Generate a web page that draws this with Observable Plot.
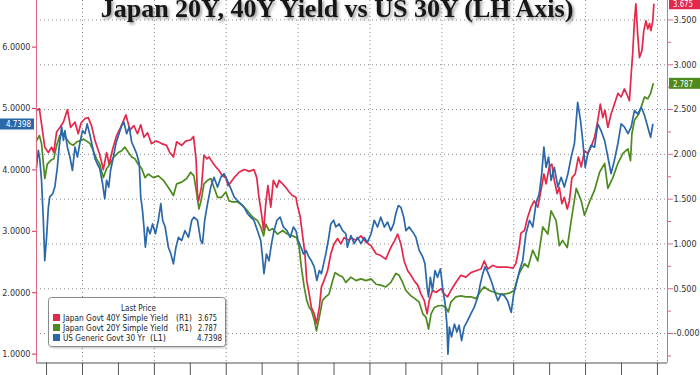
<!DOCTYPE html>
<html><head><meta charset="utf-8">
<script src="https://cdn.jsdelivr.net/npm/d3@7"></script>
<script src="https://cdn.jsdelivr.net/npm/@observablehq/plot@0.6"></script>
<style>
html,body{margin:0;padding:0;background:#fff;overflow:hidden}
#chart{width:700px;height:375px}
</style></head><body><div id="chart"></div>
<script>
// ---- Data (decimal years, yields in %) ----
const jgb40Years = [2008.72,2008.80,2008.86,2008.95,2009.05,2009.14,2009.20,2009.28,2009.37,2009.47,
2009.58,2009.67,2009.79,2009.88,2009.96,2010.07,2010.16,2010.25,2010.35,2010.47,
2010.58,2010.67,2010.74,2010.84,2010.95,2011.06,2011.21,2011.32,2011.43,2011.53,
2011.62,2011.71,2011.81,2011.92,2012.06,2012.20,2012.34,2012.43,2012.53,2012.62,
2012.76,2012.88,2013.01,2013.09,2013.16,2013.20,2013.23,2013.31,2013.38,2013.46,
2013.52,2013.62,2013.71,2013.80,2013.89,2013.99,2014.05,2014.13,2014.22,2014.36,
2014.50,2014.64,2014.77,2014.85,2014.91,2014.98,2015.04,2015.10,2015.16,2015.24,
2015.31,2015.41,2015.47,2015.57,2015.66,2015.75,2015.84,2015.94,2015.98,2016.06,
2016.12,2016.19,2016.24,2016.31,2016.37,2016.45,2016.51,2016.59,2016.65,2016.72,
2016.82,2016.91,2017.00,2017.10,2017.19,2017.28,2017.42,2017.47,2017.61,2017.75,
2017.89,2018.03,2018.17,2018.30,2018.44,2018.58,2018.69,2018.77,2018.86,2018.95,
2019.05,2019.14,2019.23,2019.33,2019.42,2019.51,2019.59,2019.65,2019.74,2019.84,
2019.98,2020.07,2020.16,2020.25,2020.39,2020.53,2020.67,2020.81,2020.95,2021.09,
2021.18,2021.28,2021.42,2021.55,2021.65,2021.84,2021.98,2022.06,2022.15,2022.20,
2022.30,2022.39,2022.48,2022.57,2022.67,2022.76,2022.84,2022.90,2022.99,2023.06,
2023.13,2023.21,2023.27,2023.34,2023.41,2023.49,2023.55,2023.62,2023.71,2023.80,
2023.88,2023.97,2024.06,2024.15,2024.25,2024.34,2024.41,2024.48,2024.54,2024.62,
2024.71,2024.80,2024.90,2024.99,2025.08,2025.16,2025.22,2025.27,2025.31,2025.36,
2025.40,2025.45,2025.50,2025.57,2025.62,2025.68,2025.73,2025.78,2025.82,2025.87,
2025.90];
const jgb40Values = [2.49,2.51,2.34,2.08,2.02,2.08,2.02,2.25,2.30,2.36,
2.50,2.30,2.36,2.23,2.35,2.40,2.41,2.32,2.15,2.01,
1.83,2.02,1.89,2.06,2.21,2.30,2.44,2.27,2.32,2.23,
2.33,2.19,2.24,2.12,2.15,2.12,2.10,2.02,1.97,2.14,
2.10,2.15,2.16,2.20,1.95,1.56,1.48,1.63,1.99,1.95,
1.97,1.91,1.86,1.82,1.76,1.74,1.65,1.69,1.74,1.80,
1.83,1.81,1.83,1.74,1.52,1.34,1.15,1.45,1.65,1.41,
1.71,1.63,1.71,1.67,1.63,1.58,1.54,1.52,1.43,1.30,
1.11,0.89,0.59,0.44,0.29,0.22,0.11,0.29,0.52,0.59,
0.70,0.89,1.00,1.06,1.00,1.07,1.04,1.07,1.04,1.09,
1.02,0.98,0.89,0.87,0.83,0.96,1.04,1.11,1.00,0.81,
0.70,0.65,0.59,0.54,0.44,0.37,0.22,0.37,0.48,0.46,
0.50,0.44,0.41,0.48,0.57,0.65,0.63,0.68,0.70,0.72,
0.81,0.72,0.76,0.74,0.74,0.74,0.73,0.78,0.96,1.12,
1.15,1.30,1.41,1.48,1.41,1.60,1.78,1.67,1.86,1.89,
1.71,1.56,1.63,1.45,1.52,1.39,1.48,1.74,1.78,1.97,
1.86,2.04,2.01,2.08,2.19,2.38,2.56,2.41,2.49,2.30,
2.45,2.56,2.68,2.64,2.73,2.66,2.60,2.90,3.12,3.49,
3.68,3.34,3.08,3.16,3.38,3.49,3.40,3.46,3.38,3.49,
3.675];

const jgb20Years = [2008.72,2008.80,2008.86,2008.95,2009.02,2009.11,2009.20,2009.28,2009.37,2009.47,
2009.56,2009.65,2009.74,2009.84,2009.93,2010.02,2010.11,2010.21,2010.30,2010.39,
2010.48,2010.58,2010.67,2010.76,2010.87,2011.00,2011.09,2011.18,2011.28,2011.37,
2011.46,2011.55,2011.65,2011.74,2011.83,2011.97,2012.11,2012.25,2012.39,2012.53,
2012.62,2012.76,2012.90,2013.01,2013.10,2013.18,2013.24,2013.31,2013.38,2013.48,
2013.57,2013.66,2013.76,2013.87,2013.99,2014.08,2014.17,2014.31,2014.45,2014.59,
2014.73,2014.87,2014.96,2015.04,2015.10,2015.19,2015.29,2015.43,2015.57,2015.70,
2015.84,2015.96,2016.03,2016.09,2016.17,2016.24,2016.31,2016.37,2016.45,2016.51,
2016.59,2016.68,2016.77,2016.86,2016.96,2017.03,2017.14,2017.24,2017.33,2017.47,
2017.61,2017.75,2017.89,2018.03,2018.17,2018.30,2018.44,2018.58,2018.72,2018.81,
2018.91,2019.00,2019.14,2019.25,2019.37,2019.47,2019.56,2019.63,2019.70,2019.79,
2019.90,2020.02,2020.11,2020.18,2020.25,2020.39,2020.53,2020.67,2020.81,2020.95,
2021.09,2021.18,2021.32,2021.46,2021.60,2021.74,2021.87,2022.01,2022.15,2022.30,
2022.40,2022.53,2022.67,2022.81,2022.95,2023.04,2023.18,2023.27,2023.36,2023.49,
2023.60,2023.74,2023.88,2023.97,2024.11,2024.25,2024.39,2024.53,2024.62,2024.76,
2024.90,2025.04,2025.18,2025.25,2025.29,2025.36,2025.48,2025.55,2025.64,2025.73,
2025.81,2025.88];
const jgb20Values = [2.15,2.21,2.12,1.73,1.89,1.93,1.95,2.10,2.21,2.23,
2.17,2.12,2.10,2.14,2.15,2.17,2.15,2.12,2.04,1.95,
1.89,1.74,1.84,1.89,1.97,2.02,2.04,2.08,2.02,1.97,
1.95,1.89,1.84,1.74,1.78,1.74,1.76,1.71,1.63,1.54,
1.67,1.69,1.73,1.80,1.76,1.56,1.39,1.50,1.67,1.71,
1.73,1.63,1.52,1.52,1.58,1.48,1.47,1.47,1.43,1.37,
1.30,1.26,1.19,1.09,1.22,1.15,1.17,1.11,1.15,1.11,
1.09,1.07,0.96,0.74,0.52,0.37,0.29,0.26,0.15,0.03,
0.18,0.37,0.41,0.44,0.59,0.68,0.65,0.63,0.57,0.63,
0.59,0.61,0.59,0.61,0.55,0.54,0.52,0.57,0.67,0.65,
0.57,0.48,0.42,0.39,0.35,0.22,0.18,0.05,0.22,0.29,
0.31,0.31,0.29,0.24,0.35,0.41,0.42,0.41,0.41,0.39,
0.48,0.52,0.48,0.46,0.44,0.44,0.45,0.48,0.67,0.78,
0.74,0.93,0.81,1.19,1.11,1.37,1.26,0.98,1.04,0.96,
1.26,1.62,1.48,1.32,1.47,1.60,1.80,1.90,1.62,1.74,
1.90,2.01,2.06,1.93,2.23,2.38,2.45,2.53,2.64,2.62,
2.68,2.787];

const ust30Years = [2008.72,2008.77,2008.81,2008.86,2008.91,2008.95,2009.00,2009.05,2009.09,2009.17,
2009.23,2009.30,2009.35,2009.42,2009.47,2009.51,2009.58,2009.65,2009.72,2009.79,
2009.86,2009.93,2010.00,2010.07,2010.13,2010.21,2010.28,2010.35,2010.41,2010.48,
2010.56,2010.62,2010.67,2010.73,2010.78,2010.86,2010.93,2011.00,2011.09,2011.15,
2011.23,2011.30,2011.37,2011.43,2011.51,2011.58,2011.62,2011.67,2011.71,2011.75,
2011.81,2011.88,2011.95,2012.03,2012.11,2012.18,2012.23,2012.30,2012.39,2012.46,
2012.53,2012.60,2012.67,2012.76,2012.85,2012.95,2013.04,2013.10,2013.20,2013.29,
2013.34,2013.40,2013.48,2013.57,2013.66,2013.76,2013.85,2013.94,2014.03,2014.13,
2014.22,2014.31,2014.40,2014.50,2014.59,2014.68,2014.77,2014.87,2014.96,2015.00,
2015.05,2015.12,2015.19,2015.26,2015.33,2015.41,2015.50,2015.59,2015.69,2015.78,
2015.87,2015.94,2016.00,2016.08,2016.15,2016.22,2016.30,2016.37,2016.45,2016.52,
2016.59,2016.65,2016.71,2016.77,2016.84,2016.91,2016.99,2017.05,2017.14,2017.24,
2017.33,2017.37,2017.47,2017.56,2017.65,2017.75,2017.84,2017.93,2018.03,2018.12,
2018.21,2018.30,2018.40,2018.49,2018.58,2018.66,2018.72,2018.79,2018.86,2018.94,
2019.00,2019.09,2019.19,2019.28,2019.37,2019.47,2019.53,2019.59,2019.63,2019.68,
2019.74,2019.81,2019.88,2019.96,2020.02,2020.09,2020.14,2020.17,2020.21,2020.27,
2020.35,2020.42,2020.48,2020.55,2020.62,2020.72,2020.81,2020.90,2021.00,2021.07,
2021.14,2021.20,2021.28,2021.37,2021.46,2021.56,2021.65,2021.74,2021.83,2021.93,
2022.00,2022.07,2022.16,2022.25,2022.34,2022.44,2022.53,2022.62,2022.71,2022.78,
2022.84,2022.90,2022.97,2023.04,2023.13,2023.23,2023.32,2023.41,2023.51,2023.60,
2023.69,2023.78,2023.86,2023.92,2023.99,2024.06,2024.15,2024.25,2024.34,2024.43,
2024.53,2024.62,2024.71,2024.80,2024.90,2024.99,2025.08,2025.18,2025.27,2025.36,
2025.45,2025.55,2025.64,2025.73,2025.81,2025.87];
const ust30Values = [4.04,4.32,4.18,3.83,3.18,2.52,2.90,3.39,3.56,3.61,
3.72,4.04,4.37,4.70,4.48,4.64,4.37,4.21,3.99,4.37,
4.21,4.45,4.64,4.59,4.75,4.56,4.37,4.18,4.10,4.02,
3.77,3.53,3.83,3.72,3.99,4.21,4.43,4.56,4.72,4.78,
4.59,4.70,4.45,4.37,4.26,4.10,3.56,3.34,3.07,2.74,
3.07,2.96,3.12,2.96,3.18,3.45,3.18,3.07,2.74,2.63,
2.47,2.74,2.90,2.85,3.01,2.90,3.18,3.23,3.18,2.85,
2.80,3.18,3.45,3.72,3.88,3.72,3.88,3.94,3.83,3.69,
3.56,3.50,3.45,3.39,3.29,3.23,3.18,3.01,2.85,2.63,
2.31,2.63,2.52,2.80,3.01,3.18,3.23,3.07,3.01,2.90,
3.07,3.01,2.85,2.74,2.63,2.69,2.58,2.52,2.42,2.20,
2.36,2.31,2.47,2.63,2.85,3.12,3.18,3.07,3.12,3.01,
2.96,2.74,2.93,2.80,2.90,2.80,2.90,2.82,2.96,3.18,
3.07,3.23,3.07,3.15,3.01,3.12,3.29,3.42,3.39,3.23,
3.01,3.07,2.99,2.90,2.69,2.58,2.47,2.09,1.93,2.25,
2.04,2.36,2.25,2.39,2.09,1.82,1.49,1.00,1.44,1.28,
1.49,1.36,1.47,1.22,1.44,1.55,1.66,1.76,1.93,2.14,
2.31,2.42,2.33,2.20,2.04,1.87,1.98,1.95,1.87,1.68,
1.98,2.14,2.36,2.52,2.96,3.18,3.07,3.45,3.61,3.94,
4.37,4.04,4.21,3.83,4.04,3.72,3.88,3.72,3.94,4.21,
4.43,5.10,4.80,4.48,4.04,4.26,4.40,4.37,4.75,4.64,
4.48,4.21,3.94,4.15,4.43,4.75,4.70,4.59,4.70,4.97,
4.91,5.02,4.89,4.70,4.53,4.7398];

const seriesNames = ["Japan Govt 40Y Simple Yield", "Japan Govt 20Y Simple Yield", "US Generic Govt 30 Yr"];
const seriesAxes = ["(R1)", "(R1)", "(L1)"];
const lastPrices = ["3.675", "2.787", "4.7398"];
const titleText = "Japan 20Y, 40Y Yield vs US 30Y (LH Axis)";
const legendTitle = "Last Price";

const leftTicks = [1, 2, 3, 4, 5, 6];
const rightTicks = [0, 0.5, 1, 1.5, 2, 2.5, 3, 3.5];
const rightMinorTicks = [-0.25, 0.25, 0.75, 1.25, 1.75, 2.25, 2.75, 3.25];
const yearTicks = [2009,2010,2011,2012,2013,2014,2015,2016,2017,2018,2019,2020,2021,2022,2023,2024,2025,2026];
const gridYears = [2010,2012,2014,2016,2018,2020,2022,2024,2026];

// ---- Scales / layout ----
const xDomain = [2008.72, 2026.28];
const leftDomain = [0.855, 6.759];
const rightDomain = [-0.329, 3.717];
const toLeft = d3.scaleLinear().domain(rightDomain).range(leftDomain);

const RED = "#e3284c", GREEN = "#4e8b1f", BLUE = "#2b68a9";
const PINK = "#dc6a82";
const FONT = "'Liberation Sans Narrow','DejaVu Sans Condensed','Liberation Sans',sans-serif";

const rows = (ts, vs, f) => ts.map((t, i) => ({t, v: f(vs[i])}));
const jgb40 = rows(jgb40Years, jgb40Values, v => toLeft(v));
const jgb20 = rows(jgb20Years, jgb20Values, v => toLeft(v));
const ust30 = rows(ust30Years, ust30Values, v => v);

const gridStyle = {stroke: "#8c8c8c", strokeOpacity: 1, strokeWidth: 1, strokeDasharray: "1,3"};

const plot = Plot.plot({
  width: 700, height: 375,
  marginLeft: 36, marginRight: 33, marginTop: 0, marginBottom: 12.5,
  style: {fontFamily: FONT, fontSize: "9px", color: "#333", background: "#fff", overflow: "visible"},
  x: {type: "linear", domain: xDomain, label: null},
  y: {type: "linear", domain: leftDomain, label: null},
  marks: [
    Plot.gridY(rightTicks.map(d => toLeft(d)), gridStyle),
    Plot.gridX(gridYears, gridStyle),
    Plot.line(jgb20, {x: "t", y: "v", stroke: GREEN, strokeWidth: 1.7}),
    Plot.line(jgb40, {x: "t", y: "v", stroke: RED, strokeWidth: 1.7}),
    Plot.line(ust30, {x: "t", y: "v", stroke: BLUE, strokeWidth: 1.7}),
    Plot.ruleY([leftDomain[0]], {stroke: "#555"}),
    Plot.ruleX([xDomain[0]], {stroke: PINK}),
    Plot.ruleX([xDomain[1]], {stroke: PINK}),
    Plot.axisX(yearTicks, {tickSize: 13, tickFormat: () => "", stroke: "#555"}),
    Plot.axisY(leftTicks, {anchor: "left", tickSize: 4, tickFormat: () => "", stroke: RED}),
    Plot.axisY(leftTicks, {anchor: "left", tickSize: 0, tickPadding: 6, tickFormat: d => d.toFixed(4), color: "#333"}),
    Plot.axisY(rightMinorTicks.map(d => toLeft(d)), {anchor: "right", tickSize: 3, tickFormat: () => "", stroke: PINK}),
    Plot.axisY(rightTicks.map(d => toLeft(d)), {anchor: "right", tickSize: 5, tickFormat: () => "", stroke: PINK}),
    Plot.axisY(rightTicks.map(d => toLeft(d)), {anchor: "right", tickSize: 0, tickPadding: 6,
      tickFormat: d => toLeft.invert(d).toFixed(3), color: "#333"})
  ]
});
document.getElementById("chart").appendChild(plot);

// ---- Overlays: title, last-price tags, legend ----
const svg = d3.select(plot);
const ys = plot.scale("y");
const defs = svg.append("defs");
const f = defs.append("filter").attr("id", "tshadow").attr("x", "-10%").attr("y", "-30%").attr("width", "120%").attr("height", "160%");
f.append("feDropShadow").attr("dx", 1.5).attr("dy", 2).attr("stdDeviation", 1.4).attr("flood-color", "#000").attr("flood-opacity", 0.45);
const f2 = defs.append("filter").attr("id", "bshadow");
f2.append("feDropShadow").attr("dx", 1).attr("dy", 1).attr("stdDeviation", 1).attr("flood-color", "#000").attr("flood-opacity", 0.25);

svg.append("text").text(titleText)
  .attr("x", 337).attr("y", 17).attr("text-anchor", "middle")
  .attr("font-family", "'Liberation Serif','DejaVu Serif',serif").attr("font-weight", "bold")
  .attr("font-size", 26).attr("fill", "#141414").attr("filter", "url(#tshadow)");

const tags = [
  {text: lastPrices[0], color: RED, left: false, y: ys.apply(toLeft(+lastPrices[0]))},
  {text: lastPrices[1], color: GREEN, left: false, y: ys.apply(toLeft(+lastPrices[1]))},
  {text: lastPrices[2], color: BLUE, left: true, y: ys.apply(+lastPrices[2])}
];
for (const t of tags) {
  const g = svg.append("g").attr("font-family", FONT).attr("font-size", 9);
  if (t.left) {
    g.append("rect").attr("x", 0).attr("y", t.y - 5.5).attr("width", 34).attr("height", 11).attr("fill", t.color);
    g.append("text").text(t.text).attr("x", 6).attr("y", t.y + 3.5).attr("text-anchor", "start")
      .attr("textLength", 25).attr("lengthAdjust", "spacingAndGlyphs").attr("fill", "#fff");
  } else {
    g.append("rect").attr("x", 669).attr("y", t.y - 5.5).attr("width", 31).attr("height", 11).attr("fill", t.color);
    g.append("text").text(t.text).attr("x", 673).attr("y", t.y + 3.5).attr("text-anchor", "start")
      .attr("textLength", 20).attr("lengthAdjust", "spacingAndGlyphs").attr("fill", "#fff");
  }
}

const colors = [RED, GREEN, BLUE];
const nameWidths = [105, 105, 82];
const tagX = [176, 176, 150];
const lg = svg.append("g").attr("font-family", FONT).attr("font-size", 8.5).attr("fill", "#222").attr("text-anchor", "start");
lg.append("rect").attr("x", 48.5).attr("y", 297.5).attr("width", 177).attr("height", 49).attr("rx", 3)
  .attr("fill", "#fff").attr("stroke", "#8a8a8a").attr("filter", "url(#bshadow)");
lg.append("text").text(legendTitle).attr("x", 121).attr("y", 311).attr("font-size", 9.5)
  .attr("textLength", 35).attr("lengthAdjust", "spacingAndGlyphs");
seriesNames.forEach((name, i) => {
  const yb = 321 + 10 * i;
  lg.append("rect").attr("x", 53).attr("y", yb - 7).attr("width", 7).attr("height", 7).attr("fill", colors[i]);
  lg.append("text").text(name).attr("x", 63).attr("y", yb)
    .attr("textLength", nameWidths[i]).attr("lengthAdjust", "spacingAndGlyphs");
  lg.append("text").text(seriesAxes[i]).attr("x", tagX[i]).attr("y", yb)
    .attr("textLength", 16).attr("lengthAdjust", "spacingAndGlyphs");
  lg.append("text").text(lastPrices[i]).attr("x", i === 2 ? 197 : 198).attr("y", yb)
    .attr("textLength", i === 2 ? 25 : 19).attr("lengthAdjust", "spacingAndGlyphs");
});
</script></body></html>
